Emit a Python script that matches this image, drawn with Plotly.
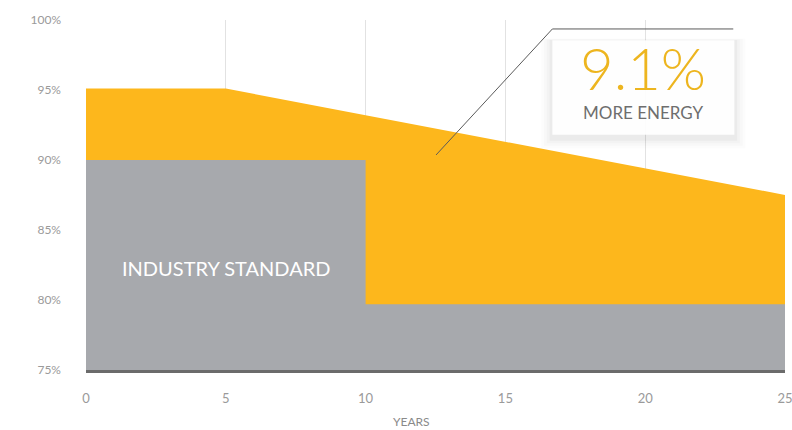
import plotly.graph_objects as go

# Data
years_sun = [0, 5, 25]
pct_sun = [95.1, 95.1, 87.5]
years_std = [0, 10, 10, 25]
pct_std = [90.0, 90.0, 79.7, 79.7]
x_ticks = [0, 5, 10, 15, 20, 25]
y_ticks = [75, 80, 85, 90, 95, 100]
y_tick_labels = [f"{v}%" for v in y_ticks]
headline = "9.1%"
subline = "MORE ENERGY"
std_label = "INDUSTRY STANDARD"
x_title = "YEARS"

ORANGE = "#FDB71C"
GRAY = "#A7A9AD"

fig = go.Figure()
fig.add_trace(go.Scatter(x=years_sun, y=pct_sun, mode="lines", line=dict(width=0, color=ORANGE),
                         fill="tozeroy", fillcolor=ORANGE, hoverinfo="skip", showlegend=False))
fig.add_trace(go.Scatter(x=years_std, y=pct_std, mode="lines", line=dict(width=0, color=GRAY),
                         fill="tozeroy", fillcolor=GRAY, hoverinfo="skip", showlegend=False))

shapes = []
# soft shadow for the callout box
for i, a in enumerate([0.01, 0.015, 0.02, 0.03]):
    d = (4 - i) * 0.1
    shapes.append(dict(type="rect", xref="x", yref="y", x0=16.68 - d, x1=23.19 + d,
                       y0=91.7 - d * 1.8 - 0.15, y1=98.55 + d * 0.3,
                       fillcolor=f"rgba(0,0,0,{a})", line=dict(width=0), layer="above"))
shapes.append(dict(type="rect", xref="x", yref="y", x0=16.68, x1=23.19, y0=91.8, y1=98.55,
                   fillcolor="rgba(255,255,255,0.93)", line=dict(width=0), layer="above"))
# leader line
shapes.append(dict(type="path", xref="x", yref="y",
                   path="M 12.52 90.36 L 16.68 99.36 L 23.15 99.36",
                   line=dict(color="#5a5a5a", width=1), layer="above"))

fig.update_layout(
    width=792, height=430,
    margin=dict(l=86, r=7, t=20, b=60),
    paper_bgcolor="white", plot_bgcolor="white",
    shapes=shapes,
    xaxis=dict(range=[0, 25], tickvals=x_ticks, showgrid=True, gridcolor="#e2e2e2", gridwidth=1,
               zeroline=False, showline=True, linecolor="#6b6b6b", linewidth=3,
               tickfont=dict(family="Lato", size=13, color="#9a9a9a"), ticks="",
               ticklabelstandoff=14, automargin=False, ticklabeloverflow="allow"),
    yaxis=dict(range=[75, 100], tickvals=y_ticks, ticktext=y_tick_labels, showgrid=False,
               zeroline=False, showline=False, ticks="", automargin=False,
               tickfont=dict(family="Lato", size=12, color="#9a9a9a"), ticklabelstandoff=24),
    annotations=[
        dict(x=5, y=82.3, xref="x", yref="y", text=std_label, showarrow=False,
             font=dict(family="Lato", size=20, color="white")),
        dict(x=19.93, y=96.6, xref="x", yref="y", text=headline, showarrow=False,
             font=dict(family="Lato", size=58, color="#EDB51F", weight=300)),
        dict(x=19.93, y=93.4, xref="x", yref="y", text=subline, showarrow=False,
             font=dict(family="Lato", size=17, color="#6e6e6e")),
        dict(x=0.465, y=-0.146, xref="paper", yref="paper", text=x_title, showarrow=False,
             yanchor="middle", font=dict(family="Lato", size=12, color="#8a8a8a")),
    ],
)

fig.write_html("out.html", config={"displayModeBar": False},
               post_script="document.body.style.margin='0';document.body.style.overflow='hidden';")
